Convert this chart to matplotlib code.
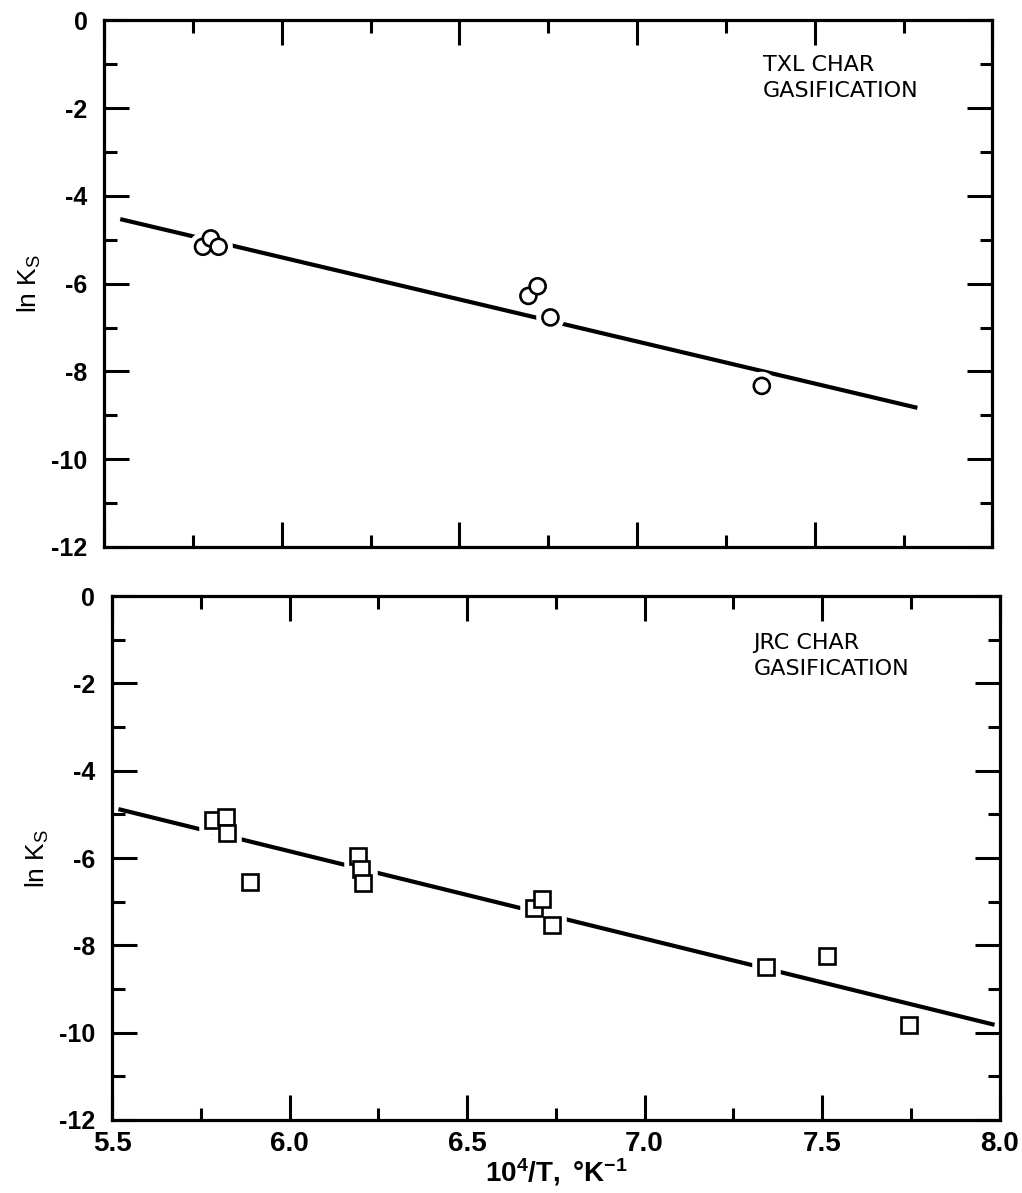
import numpy as np
import matplotlib
matplotlib.use("Agg")
import matplotlib.pyplot as plt
import matplotlib.patheffects as pe
from matplotlib.ticker import MultipleLocator

plt.rcParams['font.family'] = ['Liberation Sans', 'DejaVu Sans']
plt.rcParams['mathtext.fontset'] = 'custom'
plt.rcParams['mathtext.rm'] = 'Liberation Sans'
plt.rcParams['mathtext.it'] = 'Liberation Sans'
plt.rcParams['mathtext.bf'] = 'Liberation Sans:bold'

# ---- TXL char gasification (circles) ----
txl_x = [5.778, 5.800, 5.822, 6.694, 6.720, 6.756, 7.351]
txl_lnk = [-5.16, -4.97, -5.16, -6.28, -6.06, -6.77, -8.33]
txl_fit_x = [5.545, 7.789]
txl_fit_y = [-4.53, -8.83]

# ---- JRC char gasification (squares) ----
jrc_x = [5.785, 5.822, 5.825, 5.888, 6.192, 6.201, 6.208,
         6.688, 6.712, 6.740, 7.341, 7.514, 7.744]
jrc_lnk = [-5.13, -5.07, -5.43, -6.54, -5.95, -6.26, -6.57,
           -7.15, -6.94, -7.53, -8.49, -8.24, -9.82]
jrc_fit_x = [5.518, 7.986]
jrc_fit_y = [-4.88, -9.82]

x_ticks = [5.5, 6.0, 6.5, 7.0, 7.5, 8.0]
y_ticks = [0, -2, -4, -6, -8, -10, -12]

fig = plt.figure(figsize=(10.22, 11.93), dpi=100)
ax1 = fig.add_axes([0.102, 0.5415, 0.869, 0.4415])
ax2 = fig.add_axes([0.1096, 0.0612, 0.8684, 0.4392])

halo = [pe.Stroke(linewidth=9, foreground='white'), pe.Normal()]
narrow = ['Liberation Sans Narrow', 'Liberation Sans', 'DejaVu Sans']


def style_axes(ax, show_xlabels):
    ax.set_xlim(5.5, 8.0)
    ax.set_ylim(-12, 0)
    ax.xaxis.set_minor_locator(MultipleLocator(0.25))
    ax.yaxis.set_minor_locator(MultipleLocator(1))
    ax.set_yticks(y_ticks)
    ax.set_yticklabels([str(v) for v in y_ticks])
    ax.set_xticks(x_ticks)
    if show_xlabels:
        ax.set_xticklabels([f"{v:.1f}" for v in x_ticks])
    else:
        ax.set_xticklabels([])
    ax.tick_params(which='both', direction='in', top=True, right=True,
                   width=2.2, color='black', labelsize=18)
    ax.tick_params(which='major', length=18)
    ax.tick_params(which='minor', length=9)
    ax.tick_params(axis='y', pad=12)
    ax.tick_params(axis='x', pad=8)
    for lab in ax.get_yticklabels():
        lab.set_fontweight('bold')
    for lab in ax.get_xticklabels():
        lab.set_fontweight('bold')
        lab.set_family(narrow)
        lab.set_fontsize(20)
    for sp in ax.spines.values():
        sp.set_linewidth(2.3)
    ax.set_ylabel(r'ln K$_{\mathrm{S}}$', fontsize=19, labelpad=6)


ax1.plot(txl_fit_x, txl_fit_y, color='black', lw=3.0, solid_capstyle='butt', zorder=2)
ax1.plot(txl_x, txl_lnk, ls='none', marker='o', ms=11.5, mfc='white', mec='black',
         mew=1.9, zorder=3, path_effects=halo)
style_axes(ax1, False)
ax1.text(0.742, 0.935, 'TXL CHAR\nGASIFICATION', transform=ax1.transAxes,
         fontsize=16, family='DejaVu Sans', va='top', ha='left', linespacing=1.4)

ax2.plot(jrc_fit_x, jrc_fit_y, color='black', lw=3.0, solid_capstyle='butt', zorder=2)
ax2.plot(jrc_x, jrc_lnk, ls='none', marker='s', ms=11.5, mfc='white', mec='black',
         mew=1.9, zorder=3, path_effects=halo)
style_axes(ax2, True)
ax2.text(0.723, 0.93, 'JRC CHAR\nGASIFICATION', transform=ax2.transAxes,
         fontsize=16, family='DejaVu Sans', va='top', ha='left', linespacing=1.4)
ax2.set_xlabel(r'$\mathbf{10^{4}/T,\ °K^{-1}}$', fontsize=20, labelpad=-1)

fig.savefig('out.png', dpi=100, facecolor='white')
